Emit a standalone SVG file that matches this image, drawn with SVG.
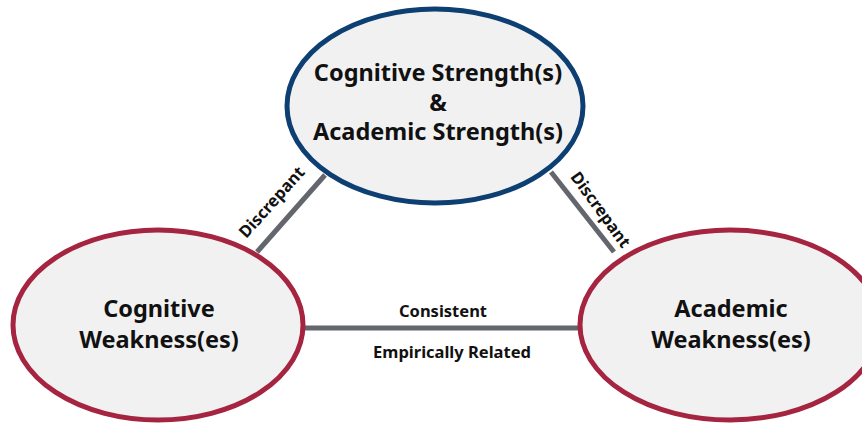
<svg xmlns="http://www.w3.org/2000/svg" width="862" height="423" viewBox="0 0 862 423">
<style>
.node{fill:#f1f1f1;stroke-width:5}
.blue{stroke:#0d3f72}
.red{stroke:#a52440}
.t{font-family:"Noto Sans","Open Sans",sans-serif;font-weight:bold;font-size:23.5px;fill:#111;text-anchor:middle}
.l{font-family:"Noto Sans","Open Sans",sans-serif;font-weight:bold;font-size:16.5px;fill:#111;text-anchor:middle}
.c{stroke:#64666d;stroke-width:5;fill:none}
</style>
<rect width="862" height="423" fill="#fff"/>
<g id="connectors">
<line class="c" x1="257" y1="252" x2="325" y2="175"/>
<line class="c" x1="551" y1="172" x2="614" y2="252"/>
<line class="c" x1="303" y1="328" x2="581" y2="328"/>
<text class="l" transform="translate(276,206) rotate(-48)">Discrepant</text>
<text class="l" transform="translate(596,213) rotate(54)">Discrepant</text>
<text class="l" x="443" y="317">Consistent</text>
<text class="l" x="452" y="358">Empirically Related</text>
</g>
<g id="top">
<ellipse class="node blue" cx="435" cy="106" rx="148" ry="97"/>
<text class="t" x="438" y="81">Cognitive Strength(s)</text>
<text class="t" x="438" y="111">&amp;</text>
<text class="t" x="438" y="140">Academic Strength(s)</text>
</g>
<g id="left">
<ellipse class="node red" cx="158" cy="325" rx="145" ry="95"/>
<text class="t" x="159" y="317">Cognitive</text>
<text class="t" x="159" y="348">Weakness(es)</text>
</g>
<g id="right">
<ellipse class="node red" cx="730" cy="325" rx="150" ry="95"/>
<text class="t" x="731" y="317">Academic</text>
<text class="t" x="731" y="348">Weakness(es)</text>
</g>
</svg>
